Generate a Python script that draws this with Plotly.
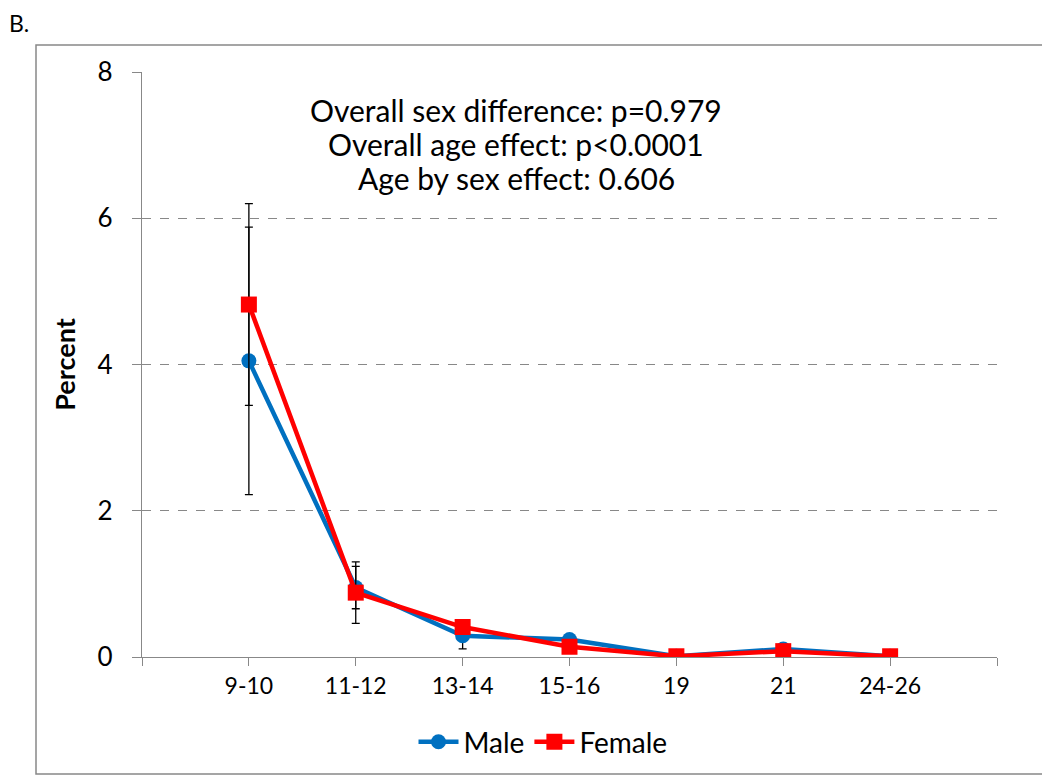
import plotly.graph_objects as go

categories = ["9-10", "11-12", "13-14", "15-16", "19", "21", "24-26"]
male = [4.05, 0.95, 0.29, 0.24, 0.01, 0.11, 0.01]
male_err = [1.83, 0.29, 0.18, 0, 0, 0, 0]
female = [4.82, 0.88, 0.41, 0.14, 0.01, 0.08, 0.01]
female_err = [1.38, 0.42, 0, 0, 0, 0, 0]
y_ticks = [0, 2, 4, 6, 8]
stats_lines = ["Overall sex difference: p=0.979",
               "Overall age effect: p<0.0001",
               "Age by sex effect: 0.606"]

FONT = "Lato, Calibri, sans-serif"
xpos = list(range(len(categories)))

fig = go.Figure()
fig.add_trace(go.Scatter(
    x=xpos, y=male, name="Male", mode="lines+markers",
    line=dict(color="#0070C0", width=4.5),
    marker=dict(symbol="circle", size=15, color="#0070C0"),
    error_y=dict(type="data", array=male_err, visible=True, color="black",
                 thickness=1.3, width=4),
))
fig.add_trace(go.Scatter(
    x=xpos, y=female, name="Female", mode="lines+markers",
    line=dict(color="#FF0000", width=4.5),
    marker=dict(symbol="square", size=16, color="#FF0000"),
    error_y=dict(type="data", array=female_err, visible=True, color="black",
                 thickness=1.3, width=4),
))

# page body has an 8px margin: work in screen pixels, shift by OFF
OFF = 8
W, H = 1050 - OFF, 776 - OFF
L, R, T, B = 142 - OFF, 997 - OFF, 72 - OFF, 657 - OFF
pw, ph = R - L, B - T


def px(x):
    return (x - OFF - L) / pw


def py(y):
    return (B - (y - OFF)) / ph


fig.update_layout(
    width=W, height=H,
    margin=dict(l=L, r=W - R, t=T, b=H - B, autoexpand=False),
    paper_bgcolor="white", plot_bgcolor="white",
    font=dict(family=FONT, color="black"),
    showlegend=True,
    legend=dict(orientation="h", x=px(543), y=py(742), xanchor="center",
                yanchor="middle", font=dict(size=28, family=FONT),
                itemwidth=40, traceorder="normal"),
    xaxis=dict(
        range=[-1, len(categories)],
        tickmode="array",
        tickvals=list(range(-1, len(categories) + 1)),
        ticktext=[""] + categories + [""],
        ticks="outside", ticklen=8, tickcolor="#888888", tickwidth=1,
        showline=True, linecolor="#888888", linewidth=1.3,
        showgrid=False, zeroline=False,
        tickfont=dict(size=23, family=FONT),
    ),
    yaxis=dict(
        range=[0, 8],
        tickmode="array", tickvals=y_ticks,
        ticks="outside", ticklen=9, tickcolor="#888888", tickwidth=1,
        showline=True, linecolor="#888888", linewidth=1.3,
        showgrid=True, gridcolor="#888888", griddash="dash", gridwidth=1,
        zeroline=False,
        tickfont=dict(size=26, family=FONT),
        ticklabelstandoff=14,
        title=dict(text="<b>Percent</b>", font=dict(size=27, family=FONT),
                   standoff=14),
    ),
)

for i, line in enumerate(stats_lines):
    fig.add_annotation(
        xref="paper", yref="paper", x=px(516), y=py(110 + 34 * i),
        text=line, showarrow=False,
        font=dict(size=30, family=FONT), align="center",
        xanchor="center", yanchor="middle",
    )
fig.add_annotation(
    xref="paper", yref="paper", x=px(OFF), y=py(OFF),
    text="B.", showarrow=False, font=dict(size=23, family=FONT),
    xanchor="left", yanchor="top", borderpad=0,
)
fig.add_shape(
    type="rect", xref="paper", yref="paper",
    x0=px(36), x1=px(1048), y0=py(774), y1=py(45),
    line=dict(color="#888888", width=1.5), fillcolor="rgba(0,0,0,0)",
    layer="below",
)

fig.write_html("out.html")
